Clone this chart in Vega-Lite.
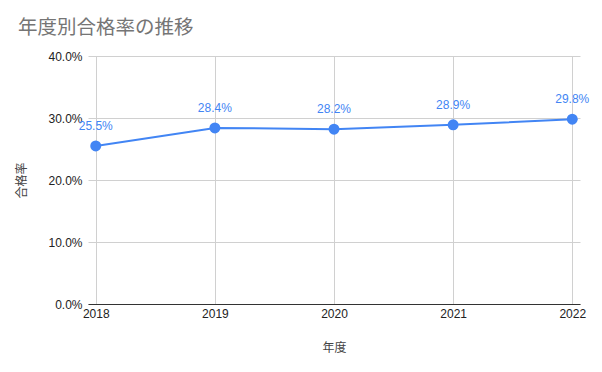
{
  "$schema": "https://vega.github.io/schema/vega-lite/v6.json",
  "autosize": {"type": "none"},
  "width": 492,
  "height": 248,
  "padding": {"left": 88, "top": 56, "right": 22, "bottom": 68},
  "background": "white",
  "title": {
    "text": "年度別合格率の推移",
    "anchor": "start",
    "frame": "group",
    "dx": -70,
    "offset": 12,
    "font": "Noto Sans CJK JP",
    "fontSize": 19.5,
    "fontWeight": "normal",
    "color": "#757575"
  },
  "config": {
    "view": {"stroke": null},
    "axis": {"labelFont": "Liberation Sans", "titleFont": "Noto Sans CJK JP"}
  },
  "data": {
    "values": [
      {"year": "2018", "rate": 0.255},
      {"year": "2019", "rate": 0.284},
      {"year": "2020", "rate": 0.282},
      {"year": "2021", "rate": 0.289},
      {"year": "2022", "rate": 0.298}
    ]
  },
  "encoding": {
    "x": {
      "field": "year",
      "type": "ordinal",
      "scale": {"type": "point", "padding": 0.065},
      "axis": {
        "title": "年度",
        "labelAngle": 0,
        "labelFontSize": 12,
        "labelColor": "#222222",
        "labelPadding": 4,
        "ticks": false,
        "grid": true,
        "gridColor": "#d0d0d0",
        "domainColor": "#333333",
        "domainWidth": 1,
        "titleFontSize": 12,
        "titleFontWeight": "normal",
        "titleColor": "#444444",
        "titlePadding": 23
      }
    },
    "y": {
      "field": "rate",
      "type": "quantitative",
      "scale": {"domain": [0, 0.4]},
      "axis": {
        "title": "合格率",
        "format": ".1%",
        "values": [0, 0.1, 0.2, 0.3, 0.4],
        "labelFontSize": 12,
        "labelColor": "#222222",
        "labelPadding": 6,
        "ticks": false,
        "domain": false,
        "grid": true,
        "gridColor": "#d0d0d0",
        "titleFontSize": 12,
        "titleFontWeight": "normal",
        "titleColor": "#444444",
        "titleX": -60,
        "titleY": 124
      }
    }
  },
  "layer": [
    {"mark": {"type": "line", "color": "#4285F4", "strokeWidth": 2}},
    {"mark": {"type": "circle", "color": "#4285F4", "opacity": 1, "size": 120}},
    {
      "mark": {"type": "text", "color": "#4285F4", "dy": -20, "fontSize": 12, "font": "Liberation Sans"},
      "encoding": {"text": {"field": "rate", "type": "quantitative", "format": ".1%"}}
    }
  ]
}
